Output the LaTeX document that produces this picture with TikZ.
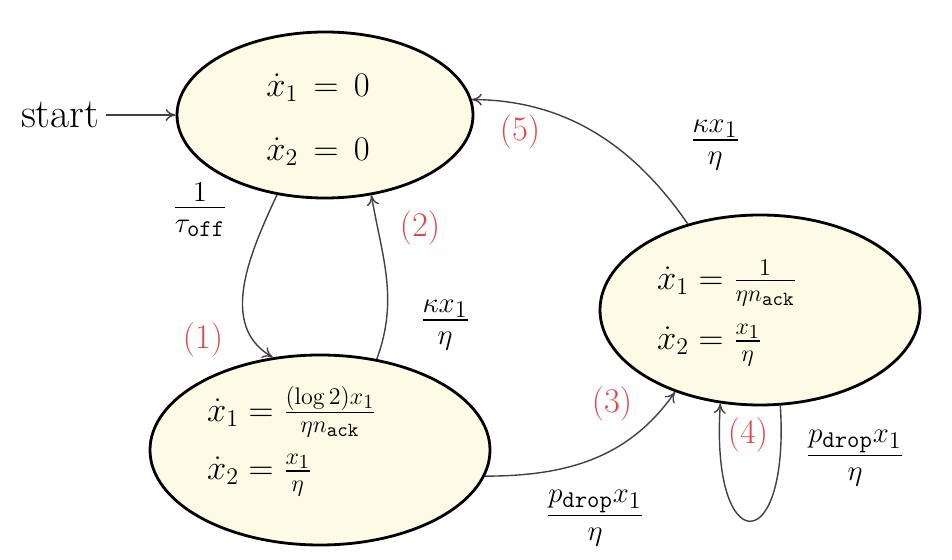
\documentclass[tikz,border=0pt]{standalone}
\usepackage{amsmath}
\usetikzlibrary{shapes.geometric,arrows.meta}
\definecolor{fillc}{HTML}{FCFCE6}
\definecolor{redc}{HTML}{E0474C}
\begin{document}
\begin{tikzpicture}[x=0.5pt,y=-0.5pt,
  st/.style={ellipse,draw,line width=1.4pt,fill=fillc,inner sep=0pt},
  lbl/.style={font=\huge},
  num/.style={font=\LARGE,text=redc},
  ar/.style={-{To[length=5pt,width=6pt]},draw=black!75,line width=0.7pt}]
\useasboundingbox (0,0) rectangle (952,560);
\node[st,minimum width=296pt/2,minimum height=166pt/2] (s0) at (325,115) {};
\node[font=\LARGE] at (318,88) (t0a) {$\dot x_1 \,=\, 0$};
\node[font=\LARGE] at (318,152) (t0b) {$\dot x_2 \,=\, 0$};
\node[st,minimum width=320pt/2,minimum height=190pt/2] (s2) at (760,310) {};
\node[font=\LARGE,anchor=west] at (650,283) (t2a) {$\dot x_1 = \frac{1}{\eta n_{\texttt{ack}}}$};
\node[font=\LARGE,anchor=west] at (650,345) (t2b) {$\dot x_2 = \frac{x_1}{\eta}$};
\node[st,minimum width=340pt/2,minimum height=190pt/2] (s1) at (320,450) {};
\node[font=\LARGE,anchor=west] at (200,412) (t1a) {$\dot x_1 = \frac{(\log 2)x_1}{\eta n_{\texttt{ack}}}$};
\node[font=\LARGE,anchor=west] at (200,475) (t1b) {$\dot x_2 = \frac{x_1}{\eta}$};
\node[font=\huge] (start) at (60,115) {start};
\draw[ar] (start.east) -- (s0.west);
\draw[ar] (s0.-121) to[out=-115,in=150] (s1.117);
\draw[ar] (s1.58) to[out=70,in=-80] (s0.-60);
\draw[ar] (s1.-9) to[out=0,in=-125] (s2.-136);
\draw[ar] (s2.-78) .. controls (790,560) and (710,560) .. (s2.-113);
\draw[ar] (s2.130) .. controls (630,140) and (560,100) .. (s0.6);
\node[lbl] (l1) at (200,210) {$\frac{1}{\tau_{\texttt{off}}}$};
\node[num] (n2) at (420,228) {(2)};
\node[lbl] (l2) at (445,325) {$\frac{\kappa x_1}{\eta}$};
\node[num] (n1) at (203,340) {(1)};
\node[num] (n3) at (612,404) {(3)};
\node[lbl] (l3) at (595,518) {$\frac{p_{\texttt{drop}}x_1}{\eta}$};
\node[num] (n4) at (748,435) {(4)};
\node[lbl] (l4) at (855,458) {$\frac{p_{\texttt{drop}}x_1}{\eta}$};
\node[num] (n5) at (520,132) {(5)};
\node[lbl] (l5) at (715,145) {$\frac{\kappa x_1}{\eta}$};
\end{tikzpicture}
\end{document}
